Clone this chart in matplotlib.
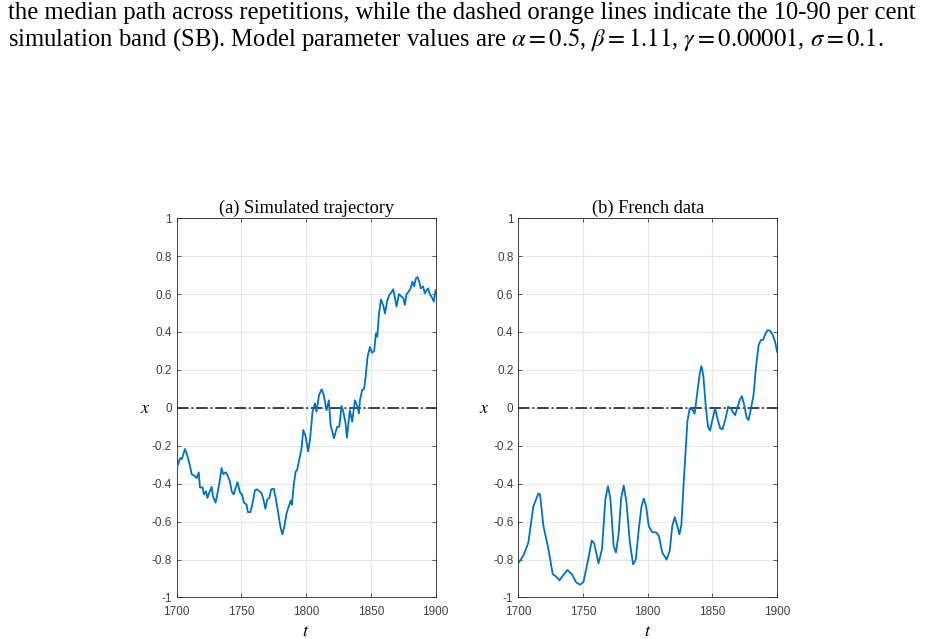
import matplotlib
matplotlib.use("Agg")
import matplotlib.pyplot as plt
import numpy as np

plt.rcParams['axes.unicode_minus'] = False
plt.rcParams['mathtext.fontset'] = 'stix'

# (a) simulated trajectory
sim_t = [1701, 1702.6, 1704, 1706.4, 1708, 1710.3, 1711.6, 1714, 1715.4, 1717, 1718, 1720,
         1721, 1722.6, 1723.7, 1725, 1727, 1728, 1730, 1731, 1733, 1734.7, 1736, 1738,
         1739, 1741, 1742.5, 1744, 1746, 1747, 1749, 1750.5, 1752, 1754, 1755, 1757,
         1758.7, 1760.5, 1762, 1764, 1765.6, 1767, 1768.5, 1770, 1771.6, 1773, 1775,
         1776.7, 1778, 1780, 1781.6, 1783, 1785, 1786.7, 1788, 1789, 1790.6, 1792, 1793,
         1795, 1796.5, 1797.8, 1799.5, 1801.6, 1803, 1805, 1806.8, 1808, 1810, 1812,
         1813.6, 1815.8, 1817.6, 1818.9, 1821.5, 1824, 1825.6, 1827.4, 1828.7, 1830.5,
         1831.5, 1833.8, 1835.6, 1837.7, 1839.8, 1840.8, 1841.6, 1843.3, 1844.8, 1846,
         1847.5, 1849.3, 1851, 1852.6, 1853.9, 1855, 1856.2, 1857.8, 1859.6, 1860.9,
         1862.7, 1864.2, 1866, 1867.3, 1868.6, 1869.9, 1871.7, 1873.2, 1875, 1876.3,
         1877.6, 1878.9, 1880.7, 1882.2, 1883.5, 1884.8, 1886.1, 1887.4, 1888.6, 1890.4,
         1891.7, 1893, 1894.3, 1895.6, 1897.4, 1898.7, 1900]
sim_x = [-0.30, -0.265, -0.27, -0.217, -0.247, -0.308, -0.35, -0.36, -0.37, -0.34, -0.42, -0.42,
         -0.457, -0.44, -0.475, -0.45, -0.417, -0.466, -0.50, -0.47, -0.396, -0.317, -0.35, -0.34,
         -0.35, -0.387, -0.44, -0.457, -0.413, -0.392, -0.448, -0.457, -0.50, -0.51, -0.55, -0.55,
         -0.50, -0.434, -0.43, -0.44, -0.45, -0.483, -0.532, -0.483, -0.475, -0.43, -0.427,
         -0.483, -0.536, -0.623, -0.667, -0.632, -0.553, -0.518, -0.49, -0.51, -0.396, -0.334, -0.33,
         -0.264, -0.212, -0.117, -0.147, -0.23, -0.168, -0.02, 0.024, -0.02, 0.068, 0.098,
         0.068, -0.012, 0.04, -0.09, -0.16, -0.10, -0.10, 0.01, -0.02, -0.08,
         -0.158, -0.012, -0.073, 0.04, 0.005, -0.03, 0.04, 0.094, 0.10, 0.164,
         0.27, 0.32, 0.29, 0.30, 0.393, 0.375, 0.49, 0.572, 0.54, 0.498,
         0.565, 0.595, 0.61, 0.625, 0.58, 0.534, 0.60, 0.59, 0.58, 0.543,
         0.60, 0.61, 0.63, 0.665, 0.64, 0.683, 0.69, 0.665, 0.63, 0.64,
         0.604, 0.62, 0.63, 0.60, 0.58, 0.56, 0.62]

# (b) French data
fr_t = [1700, 1703.9, 1707.8, 1711.6, 1715.5, 1716.8, 1719.4, 1723.3, 1726.6, 1729.2, 1731.8,
        1734.4, 1738, 1741.4, 1744.7, 1747.8, 1750.4, 1753.5, 1756.8, 1758.7, 1762, 1764.7,
        1767.3, 1769.3, 1771.2, 1773.7, 1775.5, 1777.6, 1779.4, 1781.5, 1783.6, 1786.2, 1788.7,
        1790.8, 1793.1, 1795.2, 1797, 1798.8, 1800.8, 1803.4, 1806.8, 1808.6, 1811.3, 1814.6,
        1817, 1819, 1820.9, 1822.9, 1824.5, 1826, 1828.1, 1830.7, 1832.5, 1834.6, 1836.3,
        1838.4, 1840.2, 1841.5, 1843, 1844.9, 1846.6, 1848.2, 1850, 1852.1, 1853.9, 1856,
        1857.8, 1859.9, 1862.2, 1864.3, 1866.1, 1867.6, 1869.5, 1871.3, 1872.8, 1874.6, 1876.4,
        1878, 1879.8, 1881.8, 1883.7, 1885.7, 1887.5, 1889.3, 1890.9, 1892.7, 1894.5, 1896.6,
        1898.4, 1900]
fr_x = [-0.82, -0.78, -0.71, -0.52, -0.452, -0.457, -0.623, -0.746, -0.877, -0.89, -0.91,
        -0.886, -0.855, -0.877, -0.92, -0.933, -0.917, -0.816, -0.70, -0.716, -0.82, -0.745,
        -0.48, -0.413, -0.48, -0.73, -0.763, -0.66, -0.48, -0.41, -0.50, -0.71, -0.825,
        -0.80, -0.64, -0.52, -0.478, -0.52, -0.623, -0.655, -0.658, -0.676, -0.764, -0.80,
        -0.755, -0.623, -0.576, -0.623, -0.667, -0.62, -0.36, -0.07, -0.003, -0.01, -0.03,
        0.085, 0.18, 0.22, 0.17, 0.006, -0.10, -0.12, -0.064, -0.003, -0.056, -0.108,
        -0.113, -0.064, 0.006, -0.003, -0.026, -0.038, 0.006, 0.045, 0.062, 0.015, -0.05,
        -0.064, -0.003, 0.068, 0.217, 0.331, 0.358, 0.36, 0.39, 0.41, 0.407, 0.384,
        0.35, 0.296]

panels = [("(a) Simulated trajectory", sim_t, sim_x),
          ("(b) French data", fr_t, fr_x)]

caption1 = "the median path across repetitions, while the dashed orange lines indicate the 10-90 per cent"
caption2 = (r"simulation band (SB). Model parameter values are $\alpha = 0.5$, $\beta = 1.11$, "
            r"$\gamma = 0.00001$, $\sigma = 0.1$.")

fig = plt.figure(figsize=(9.31, 6.39), dpi=100, facecolor='white')
fig.text(0.009, 0.970, caption1, family='Liberation Serif', fontsize=17.75, va='baseline')
fig.text(0.009, 0.928, caption2, family='Liberation Serif', fontsize=17.75, va='baseline')

lefts = [0.1898, 0.5567]
xlab_pos = [-0.12, -0.13]
for i in range(2):
    title, tt, xx = panels[i]
    ax = fig.add_axes([lefts[i], 0.065, 0.278, 0.5935])
    ax.plot(tt, xx, color='#0072BD', lw=1.3, zorder=3)
    ax.axhline(0, color='#333333', ls='-.', lw=1.3, zorder=2)
    ax.set_xlim(1700, 1900)
    ax.set_ylim(-1, 1)
    ax.set_xticks(np.arange(1700, 1901, 50))
    ax.set_yticks(np.arange(-1, 1.01, 0.2))
    ax.set_yticklabels(['-1', '-0.8', '-0.6', '-0.4', '-0.2', '0', '0.2', '0.4', '0.6', '0.8', '1'])
    ax.grid(True, color='#e6e6e6', lw=0.8)
    ax.set_axisbelow(True)
    ax.tick_params(direction='in', length=3, width=0.6, colors='#404040', labelsize=8.5,
                   top=True, right=True)
    ax.tick_params(axis='x', pad=6)
    for lab in ax.get_xticklabels() + ax.get_yticklabels():
        lab.set_family('Liberation Sans')
    for s in ax.spines.values():
        s.set_color('#262626')
        s.set_linewidth(0.6)
    ax.set_title(title, family='Liberation Serif', fontsize=13.2, pad=4)
    ax.set_xlabel("$t$", fontsize=13, labelpad=3)
    ax.set_ylabel("$x$", fontsize=13, rotation=0, va='center', ha='center')
    ax.yaxis.set_label_coords(xlab_pos[i], 0.5)

fig.savefig("out.png", dpi=100, facecolor='white')
